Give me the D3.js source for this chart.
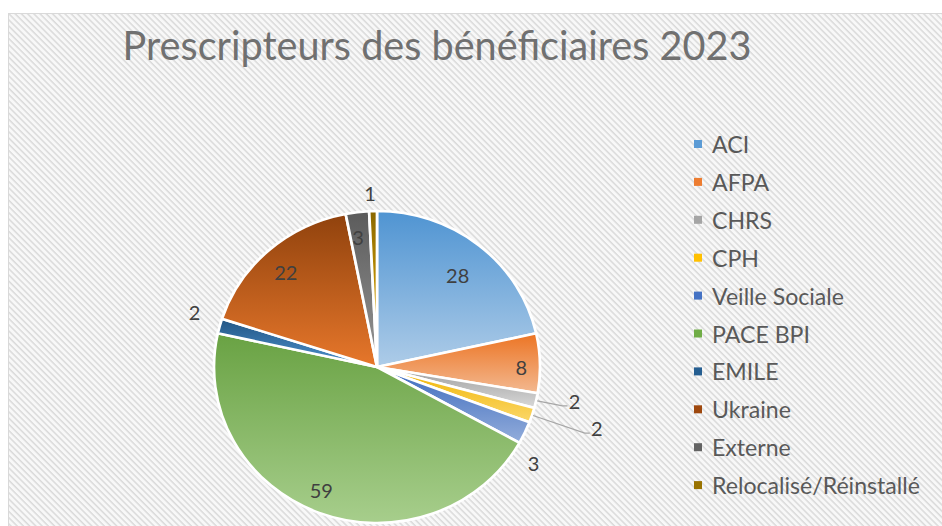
<!DOCTYPE html>
<html><head><meta charset="utf-8">
<script src="https://cdn.jsdelivr.net/npm/d3@7"></script>
<style>html,body{margin:0;padding:0;background:#fff;}svg{display:block;}</style>
</head><body>
<svg id="chart" width="942" height="526"></svg>
<script>
// ---- data ----
const categories = ["ACI","AFPA","CHRS","CPH","Veille Sociale","PACE BPI","EMILE","Ukraine","Externe","Relocalisé/Réinstallé"];
const values = [28, 8, 2, 2, 3, 59, 2, 22, 3, 1];
const title = "Prescripteurs des bénéficiaires 2023";
// ---- style ----
const colors = ["#5B9BD5","#ED7D31","#A5A5A5","#FFC000","#4472C4","#70AD47","#255E91","#9E480E","#636363","#997300"];
// label layout: radius and angle offset (degrees) from slice middle, leader flag
const labelLayout = [
  {r:120, da:1.3}, {r:138, da:1.4}, {r:192, da:-2.3, leader:true}, {r:219, da:-1.8, leader:true},
  {r:178, da:7.8}, {r:134, da:2.7}, {r:183, da:2.2}, {r:129, da:-1.0}, {r:131, da:-1.0}, {r:174, da:-0.8}
];

const svg = d3.select("#chart");
const W = 942, H = 526;
const defs = svg.append("defs");

// hatched background
const pat = defs.append("pattern").attr("id","hatch").attr("patternUnits","userSpaceOnUse")
  .attr("width",4.4).attr("height",4.4).attr("patternTransform","rotate(-45)");
pat.append("rect").attr("width",4.4).attr("height",4.4).attr("fill","#f8f8f8");
pat.append("line").attr("x1",1).attr("y1",0).attr("x2",1).attr("y2",4.4).attr("stroke","#dadada").attr("stroke-width",1.5);

svg.append("rect").attr("width",W).attr("height",H).attr("fill","#fff");
svg.append("rect").attr("x",8.5).attr("y",13.5).attr("width",W).attr("height",H).attr("fill","url(#hatch)")
  .attr("stroke","#d9d9d9").attr("stroke-width",1);

// title
const titleT = svg.append("text").attr("x",437).attr("y",60).attr("text-anchor","middle")
  .attr("font-family","Lato, 'Open Sans', sans-serif").attr("font-size",38).attr("fill","#707070").text(title);
(function fit(t, target){ const w=t.node().getComputedTextLength(); const fs=+t.attr("font-size"); t.attr("font-size", fs*target/w); })(titleT, 629);

// pie
const cx = 377, cy = 367, R = 156, sx = 1.045;
const pie = d3.pie().value(d=>d).sort(null);
const arcs = pie(values);
const arc = d3.arc().innerRadius(0).outerRadius(R);

arcs.forEach((a,i)=>{
  const c = d3.hsl(colors[i]);
  const top = d3.hsl(c.h, c.s, Math.max(0, c.l-0.03));
  const bot = d3.hsl(c.h, c.s*0.95, Math.min(0.9, c.l+0.2));
  const g = defs.append("linearGradient").attr("id","g"+i).attr("x1",0).attr("y1",0).attr("x2",0).attr("y2",1);
  g.append("stop").attr("offset","0%").attr("stop-color",top.formatHex());
  g.append("stop").attr("offset","100%").attr("stop-color",bot.formatHex());
});

const pg = svg.append("g").attr("transform",`translate(${cx},${cy}) scale(${sx},1)`);
pg.selectAll("path").data(arcs).join("path")
  .attr("d",arc).attr("fill",(d,i)=>`url(#g${i})`)
  .attr("stroke","#fff").attr("stroke-width",2.6).attr("stroke-linejoin","miter");

function polar(angleRad, r){ return [cx + sx*r*Math.sin(angleRad), cy - r*Math.cos(angleRad)]; }

const lg = svg.append("g");
arcs.forEach((a,i)=>{
  const mid = (a.startAngle + a.endAngle)/2;
  const L = labelLayout[i];
  const ang = mid + L.da*Math.PI/180;
  const [x,y] = polar(ang, L.r);
  if (L.leader){
    const [x0,y0] = polar(mid, R+1);
    lg.append("path").attr("d",`M${x0},${y0}L${x-12},${y+5}L${x-7},${y+5}`)
      .attr("fill","none").attr("stroke","#a6a6a6").attr("stroke-width",1.2);
  }
  lg.append("text").attr("x",x).attr("y",y).attr("text-anchor","middle").attr("dominant-baseline","central")
    .attr("font-family","Lato, 'Open Sans', sans-serif").attr("font-size",20).attr("fill","#404040").text(values[i]);
});

// legend
const leg = svg.append("g");
const legY0 = 144, legStep = 37.9;
categories.forEach((c,i)=>{
  const y = legY0 + i*legStep;
  leg.append("rect").attr("x",694).attr("y",y-4).attr("width",8).attr("height",8).attr("fill",colors[i]);
  leg.append("text").attr("x",712).attr("y",y).attr("dominant-baseline","central")
    .attr("font-family","Lato, 'Open Sans', sans-serif").attr("font-size",18).attr("fill","#595959").text(c);
});
// fit legend font to reference width of longest label
const last = leg.selectAll("text").filter((d,i,n)=>i===n.length-1);
const lw = last.node().getComputedTextLength();
leg.selectAll("text").attr("font-size", 18*208/lw);
</script>
</body></html>
